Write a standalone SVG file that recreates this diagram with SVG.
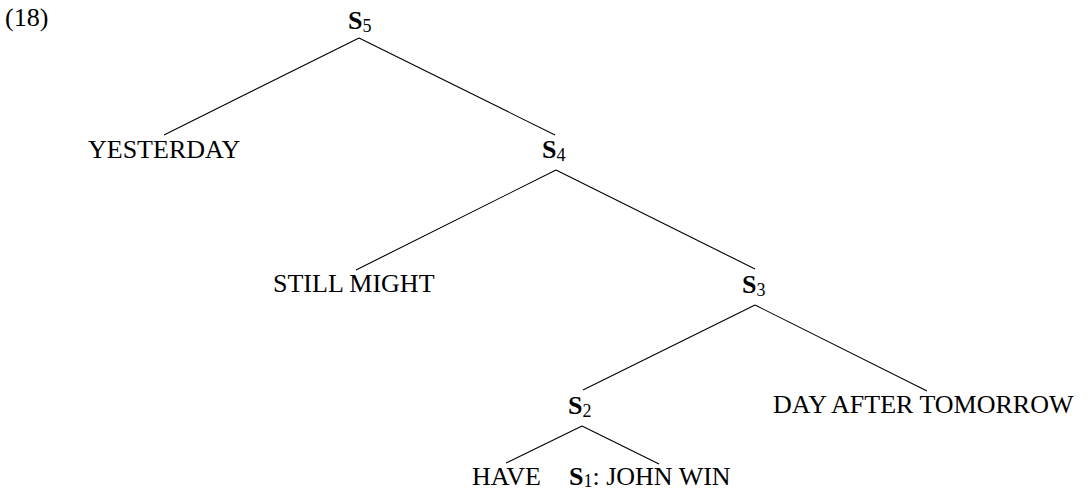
<svg xmlns="http://www.w3.org/2000/svg" width="1090" height="490" viewBox="0 0 1090 490">
  <style>
    text { font-family: "Liberation Serif", "Times New Roman", serif; font-size: 26px; fill: #000; }
    .cat { font-weight: bold; }
    .sub { font-size: 18px; font-weight: normal; }
    .edge { stroke: #000; stroke-width: 1.1; fill: none; stroke-linecap: butt; }
  </style>
  <rect width="1090" height="490" fill="#fff"/>

  <text id="example-number" x="5" y="26">(18)</text>

  <!-- tree nodes -->
  <g id="s5"><text x="348" y="29"><tspan class="cat">S</tspan><tspan class="sub" dy="3">5</tspan></text></g>
  <g id="yesterday"><text x="88" y="158">YESTERDAY</text></g>
  <g id="s4"><text x="542" y="158"><tspan class="cat">S</tspan><tspan class="sub" dy="3">4</tspan></text></g>
  <g id="still-might"><text x="273" y="292">STILL MIGHT</text></g>
  <g id="s3"><text x="742" y="293"><tspan class="cat">S</tspan><tspan class="sub" dy="3">3</tspan></text></g>
  <g id="s2"><text x="568" y="414"><tspan class="cat">S</tspan><tspan class="sub" dy="3">2</tspan></text></g>
  <g id="day-after-tomorrow"><text x="773" y="413">DAY AFTER TOMORROW</text></g>
  <g id="have"><text x="472" y="485">HAVE</text></g>
  <g id="s1"><text x="569" y="485"><tspan class="cat">S</tspan><tspan class="sub" dy="1.5">1</tspan><tspan dy="-1.5">: JOHN WIN</tspan></text></g>

  <!-- branches -->
  <g id="edges" class="edge">
    <line class="edge" x1="359" y1="38" x2="164" y2="135"/>
    <line class="edge" x1="359" y1="38" x2="555" y2="135"/>
    <line class="edge" x1="556" y1="170" x2="356" y2="270"/>
    <line class="edge" x1="556" y1="170" x2="755" y2="269"/>
    <line class="edge" x1="755" y1="305" x2="583" y2="390"/>
    <line class="edge" x1="755" y1="305" x2="927" y2="391"/>
    <line class="edge" x1="582" y1="426" x2="506" y2="463"/>
    <line class="edge" x1="582" y1="426" x2="659" y2="464"/>
  </g>
</svg>
